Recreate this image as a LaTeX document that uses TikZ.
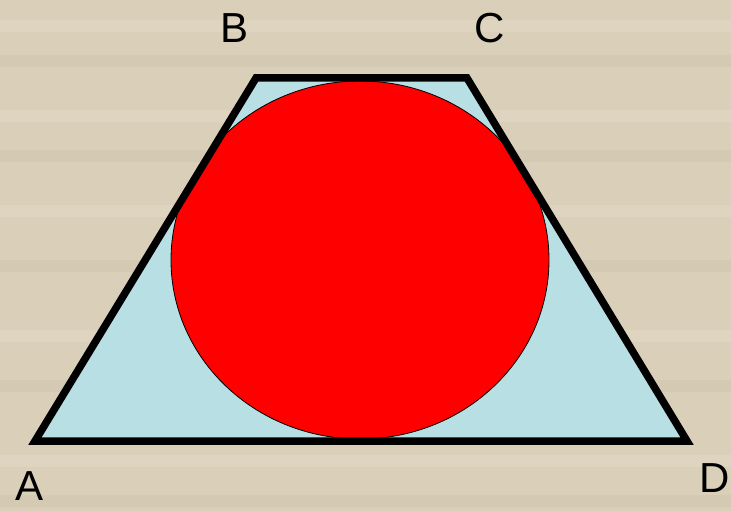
\documentclass[tikz,border=0pt]{standalone}
\usepackage{fontspec}
\setmainfont{Liberation Sans}
\usetikzlibrary{shapes.geometric}
\definecolor{bgc}{RGB}{218,208,186}
\definecolor{bgl}{RGB}{232,224,205}
\definecolor{bgd}{RGB}{200,188,164}
\definecolor{trap}{RGB}{184,224,228}
\begin{document}
\begin{tikzpicture}[x=1pt,y=-1pt,
  lbl/.style={font=\fontsize{42}{42}\selectfont, inner sep=0pt},
  side/.style={line width=7.5pt, line join=miter}]
\useasboundingbox (0,0) rectangle (731,511);
\fill[bgc] (0,0) rectangle (731,511);
\foreach \y/\c in {20/bgl,55/bgd,110/bgl,150/bgd,205/bgl,260/bgd,330/bgl,380/bgd,455/bgl,495/bgd}{
  \fill[\c, opacity=0.3] (0,\y) rectangle (731,\y+12);
}
\coordinate (A) at (35,441);
\coordinate (B) at (256,78);
\coordinate (C) at (467,78);
\coordinate (D) at (687,441);
\fill[trap] (A) -- (B) -- (C) -- (D) -- cycle;
\node[draw=black, line width=0.8pt, fill=red, ellipse, minimum width=378pt, minimum height=358pt, inner sep=0pt] (O) at (360,260) {};
\draw[side] (A) -- (B) -- (C) -- (D) -- cycle;
\node[lbl] (lB) at (235,28) {B};
\node[lbl] (lC) at (490,28) {C};
\node[lbl] (lA) at (30,486) {A};
\node[lbl] (lD) at (715,478) {D};
\end{tikzpicture}
\end{document}
